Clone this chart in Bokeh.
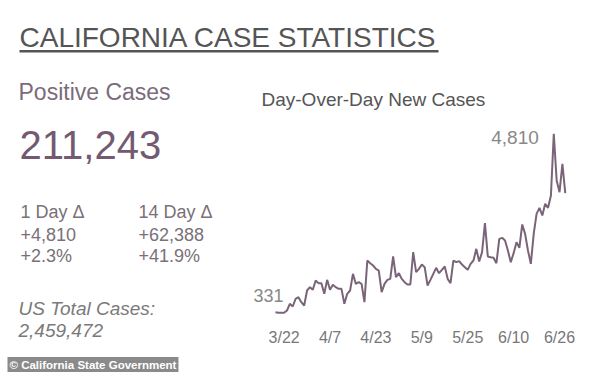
import pandas as pd
from bokeh.plotting import figure
from bokeh.models import Label, BoxAnnotation, Range1d
from bokeh.embed import file_html
from bokeh.resources import INLINE

# ---------------- data ----------------
start_date = "2020-03-19"
new_cases = [331, 315, 315, 315, 373, 540, 473, 666, 708, 582,
             498, 875, 959, 892, 1126, 1059, 1059, 791, 1143, 892,
             1017, 959, 917, 917, 540, 791, 875, 1294, 1042, 1084,
             1042, 582, 1628, 1561, 1503, 1419, 1377, 833, 1042, 1143,
             1168, 1729, 1210, 1310, 1168, 1084, 1026, 1026, 1838, 1335,
             1419, 1528, 1461, 1001, 1143, 1294, 1444, 1310, 1394, 1478,
             1168, 1059, 1628, 1587, 1612, 1528, 1461, 1394, 1545, 1628,
             1921, 1603, 1838, 2566, 1729, 1712, 1696, 1561, 2172, 2198,
             2131, 1880, 1587, 1813, 2089, 1947, 2533, 2298, 1880, 1545,
             2298, 2800, 2951, 2758, 3052, 2951, 3261, 4810, 3638, 3345,
             4056, 3320]
tick_dates = ["2020-03-22", "2020-04-07", "2020-04-23", "2020-05-09",
              "2020-05-25", "2020-06-10", "2020-06-26"]
tick_labels = ["3/22", "4/7", "4/23", "5/9", "5/25", "6/10", "6/26"]

positive_cases = "211,243"
one_day_delta = ["+4,810", "+2.3%"]
fourteen_day_delta = ["+62,388", "+41.9%"]
us_total = "2,459,472"
start_label = "331"
peak_label = "4,810"

dates = pd.date_range(start_date, periods=len(new_cases), freq="D")

FONT = "Liberation Sans"
W, H = 600, 372
PAGE_LEFT, PAGE_TOP = 0, 0                 # figure position on the page
PAGE_BOTTOM = PAGE_TOP + H
BASELINE_SHIFT = 0.35                      # label y lands ~0.35em above the baseline

# chart placement: day 0 at page x 275, 2.869 px/day; value 222 at page y 316, 25.115 per px
DAY0_PX, PX_PER_DAY = 275, 2.869
BASE_PY, BASE_VAL, VAL_PER_PX = 316, 222, 25.115

t0 = pd.Timestamp(start_date)
x_start = t0 - pd.Timedelta(days=(DAY0_PX - PAGE_LEFT) / PX_PER_DAY)
x_end = t0 + pd.Timedelta(days=(PAGE_LEFT + W - DAY0_PX) / PX_PER_DAY)
y_start = BASE_VAL - (PAGE_BOTTOM - BASE_PY) * VAL_PER_PX
y_end = BASE_VAL + (BASE_PY - PAGE_TOP) * VAL_PER_PX

p = figure(width=W, height=H, output_backend="svg", toolbar_location=None,
           x_axis_type="datetime",
           x_range=Range1d(x_start, x_end), y_range=Range1d(y_start, y_end),
           min_border=0, x_axis_location=None, y_axis_location=None,
           background_fill_color="white", border_fill_color="white")
p.outline_line_color = None
p.grid.visible = False

p.line(dates, new_cases, line_color="#7a6478", line_width=2)

# page px -> screen units (relative to frame = whole canvas)
def sx(px):
    return px - PAGE_LEFT

def sy(py):
    return PAGE_BOTTOM - py

def base(py, size):
    return sy(py - BASELINE_SHIFT * size)

# x tick labels (x through the date scale)
for d, lab in zip(tick_dates, tick_labels):
    p.add_layout(Label(x=pd.Timestamp(d), y=base(343, 16), x_units="data", y_units="screen",
                       text=lab, text_align="center", text_baseline="alphabetic",
                       text_font=FONT, text_font_size="16px", text_color="#777777"))

# data labels
p.add_layout(Label(x=dates[0], y=new_cases[0], text=start_label,
                   x_offset=8, y_offset=10 + BASELINE_SHIFT * 18, text_align="right",
                   text_baseline="alphabetic", text_font=FONT,
                   text_font_size="18px", text_color="#888888"))
peak_i = new_cases.index(max(new_cases))
p.add_layout(Label(x=dates[peak_i], y=new_cases[peak_i], text=peak_label,
                   x_offset=-15, y_offset=-10 + BASELINE_SHIFT * 19, text_align="right",
                   text_baseline="alphabetic", text_font=FONT,
                   text_font_size="19px", text_color="#888888"))


def txt(px, py, s, size, color, style="normal", align="left", **kw):
    p.add_layout(Label(x=sx(px), y=base(py, size), x_units="screen", y_units="screen",
                       text=s, text_font=FONT, text_font_size=f"{size}px",
                       text_color=color, text_font_style=style,
                       text_align=align, text_baseline="alphabetic", **kw))

txt(19, 47, "CALIFORNIA CASE STATISTICS", 28, "#555555")
p.add_layout(BoxAnnotation(left=sx(19), right=sx(438), top=sy(49.5), bottom=sy(52),
                           left_units="screen", right_units="screen",
                           top_units="screen", bottom_units="screen",
                           fill_color="#555555", fill_alpha=1, line_color=None))
txt(18, 100, "Positive Cases", 23, "#7a6c7a")
txt(19, 158, positive_cases, 40, "#735a70")
txt(261, 106, "Day-Over-Day New Cases", 19, "#555555")

txt(20, 218, "1 Day \u0394", 18, "#7a7078")
txt(20, 240, one_day_delta[0], 18, "#7a7078")
txt(20, 262, one_day_delta[1], 18, "#7a7078")
txt(138, 218, "14 Day \u0394", 18, "#7a7078")
txt(138, 240, fourteen_day_delta[0], 18, "#7a7078")
txt(138, 262, fourteen_day_delta[1], 18, "#7a7078")

txt(18, 315, "US Total Cases:", 19, "#7a7a7a", style="italic")
txt(18, 337, us_total, 19, "#7a7a7a", style="italic")

txt(7, 368.5, "\u00a9 California State Government", 11.5, "white", style="bold",
    background_fill_color="#8a8a8a", background_fill_alpha=1, padding=2)

open("out.html", "w").write(file_html(p, INLINE))
